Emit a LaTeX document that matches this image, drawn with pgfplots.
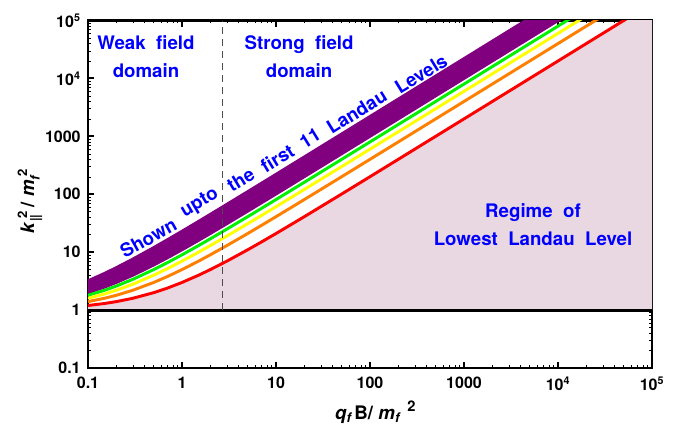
\documentclass[border=0pt]{standalone}
\usepackage{amsmath}
\usepackage{fontspec}
\setmainfont{TeX Gyre Heros}
\usepackage{pgfplots}
\usepackage{pgfplotstable}
\pgfplotsset{compat=1.18}
\usepgfplotslibrary{fillbetween}
\definecolor{llpink}{RGB}{233,215,225}
\definecolor{lorange}{RGB}{255,128,0}
\definecolor{lgreen}{RGB}{0,240,0}
\definecolor{lyellow}{RGB}{255,255,0}
\definecolor{lpurple}{RGB}{128,0,128}
\definecolor{tblue}{RGB}{0,0,255}
\newcommand{\dsp}{\hspace{0.56em}}
\tikzset{bw/.style={tblue, font=\fontsize{14}{16}\selectfont\bfseries, inner sep=0pt}}

\pgfplotstableread{
x n1 n2 n3 n4 n5 n6 n7 n8 n9 n10 n11
0.1 1.2 1.4 1.6 1.8 2.0 2.2 2.4 2.6 2.8 3.0 3.2
0.15 1.3 1.6 1.9 2.2 2.5 2.8 3.1 3.4 3.7 4.0 4.3
0.2 1.4 1.8 2.2 2.6 3.0 3.4 3.8 4.2 4.6 5.0 5.4
0.3 1.6 2.2 2.8 3.4 4.0 4.6 5.2 5.8 6.4 7.0 7.6
0.5 2 3 4 5 6 7 8 9 10 11 12
0.7 2.4 3.8 5.2 6.6 8.0 9.4 10.8 12.2 13.6 15.0 16.4
1 3 5 7 9 11 13 15 17 19 21 23
1.5 4 7 10 13 16 19 22 25 28 31 34
2 5 9 13 17 21 25 29 33 37 41 45
3 7 13 19 25 31 37 43 49 55 61 67
5 11 21 31 41 51 61 71 81 91 101 111
7 15 29 43 57 71 85 99 113 127 141 155
10 21 41 61 81 101 121 141 161 181 201 221
20 41 81 121 161 201 241 281 321 361 401 441
50 101 201 301 401 501 601 701 801 901 1001 1101
100 201 401 601 801 1001 1201 1401 1601 1801 2001 2201
1000 2001 4001 6001 8001 10001 12001 14001 16001 18001 20001 22001
10000 20001 40001 60001 80001 100001 120001 140001 160001 180001 200001 220001
100000 200001 400001 600001 800001 1000001 1200001 1400001 1600001 1800001 2000001 2200001
}\levels

\begin{document}
\begin{tikzpicture}
\begin{axis}[
  xmode=log, ymode=log,
  xmin=0.1, xmax=1e5, ymin=0.1, ymax=1e5,
  scale only axis, width=423pt, height=260.6pt,
  axis line style={line width=2pt},
  major tick length=4.5pt, minor tick length=2.2pt,
  major tick style={line width=1.5pt, black},
  minor tick style={line width=0.4pt, black},
  xtick={0.1,1,10,100,1000,1e4,1e5},
  xticklabels={0.1,1,10,100,1000,10\textsuperscript{4},10\textsuperscript{5}},
  ytick={0.1,1,10,100,1000,1e4,1e5},
  yticklabels={0.1,1,10,100,1000,10\textsuperscript{4},10\textsuperscript{5}},
  ticklabel style={font=\fontsize{12}{14}\selectfont\bfseries},
  xticklabel style={yshift=-3pt},
  yticklabel style={xshift=-2pt},
]
% pink regime of lowest Landau level
\addplot[draw=none, name path=red] table[x=x, y=n1] {\levels};
\addplot[draw=none, name path=one] coordinates {(0.1,1) (1e5,1)};
\addplot[llpink] fill between[of=red and one];
% purple band
\addplot[draw=none, name path=p5] table[x=x, y=n5] {\levels};
\addplot[draw=none, name path=p11] table[x=x, y=n11] {\levels};
\addplot[lpurple] fill between[of=p5 and p11];
\addplot[lpurple, line width=2.2pt] table[x=x, y=n11] {\levels};
\addplot[lpurple, line width=2.2pt] table[x=x, y=n5] {\levels};
\addplot[lgreen, line width=2.2pt] table[x=x, y=n4] {\levels};
\addplot[lyellow, line width=2.2pt] table[x=x, y=n3] {\levels};
\addplot[lorange, line width=2.2pt] table[x=x, y=n2] {\levels};
\addplot[red, line width=2.2pt] table[x=x, y=n1] {\levels};
% y = 1 line and dashed separator
\addplot[black, line width=2.2pt] coordinates {(0.1,1) (1e5,1)};
\addplot[black!70, line width=1pt, dash pattern=on 5.5pt off 3.5pt] coordinates {(2.718,1) (2.718,1e5)};

\node[tblue, font=\fontsize{14}{21}\selectfont\bfseries, align=center] at (axis cs:0.414,23950) {Weak\dsp field\\domain};
\node[tblue, font=\fontsize{14}{21}\selectfont\bfseries, align=center] at (axis cs:17.6,23950) {Strong\dsp field\\domain};
\node[tblue, font=\fontsize{14}{21}\selectfont\bfseries, align=center] at (axis cs:5420,29.8) {Regime\dsp of\\Lowest\dsp Landau\dsp Level};
% text following the band
\node[bw, rotate=29] at (axis cs:0.438,17.4) {Shown};
\node[bw, rotate=30.5] at (axis cs:1.554,69.9) {upto};
\node[bw, rotate=31.3] at (axis cs:4.21,176.6) {the};
\node[bw, rotate=31.5] at (axis cs:10.32,418.7) {first};
\node[bw, rotate=31.6] at (axis cs:23.0,927) {11};
\node[bw, rotate=31.6] at (axis cs:72.2,2671) {Landau};
\node[bw, rotate=31.6] at (axis cs:349,11960) {Levels};

\coordinate (bl) at (rel axis cs:0,0);
\coordinate (tr) at (rel axis cs:1,1);
\coordinate (ylab) at (rel axis cs:0,0.5);
\coordinate (xlab) at (rel axis cs:0.5,0);
\end{axis}
\node[rotate=90, font=\fontsize{14}{16}\selectfont\bfseries] at ([xshift=-43.5pt,yshift=-5pt]ylab)
  {\textit{k}$_{\text{\bfseries ||}}^{\;\text{\bfseries 2}}$\,/ \textit{m}$_{\text{\bfseries\itshape f}}^{\;\text{\bfseries 2}}$};
\node[font=\fontsize{14}{16}\selectfont\bfseries, anchor=base] at ([xshift=4pt,yshift=-38.5pt]xlab)
  {\textit{q}\raisebox{-0.35ex}{\fontsize{10}{12}\selectfont\itshape f}\hspace{2.5pt}B/\hspace{4pt}\textit{m}\raisebox{-0.35ex}{\fontsize{10}{12}\selectfont\itshape f}\hspace{6pt}\raisebox{0.75ex}{\fontsize{11}{12}\selectfont 2}};
\pgfresetboundingbox
\path ([xshift=-66pt,yshift=-42.75pt]bl) rectangle ([xshift=24.75pt,yshift=15.4pt]tr);
\end{tikzpicture}
\end{document}
